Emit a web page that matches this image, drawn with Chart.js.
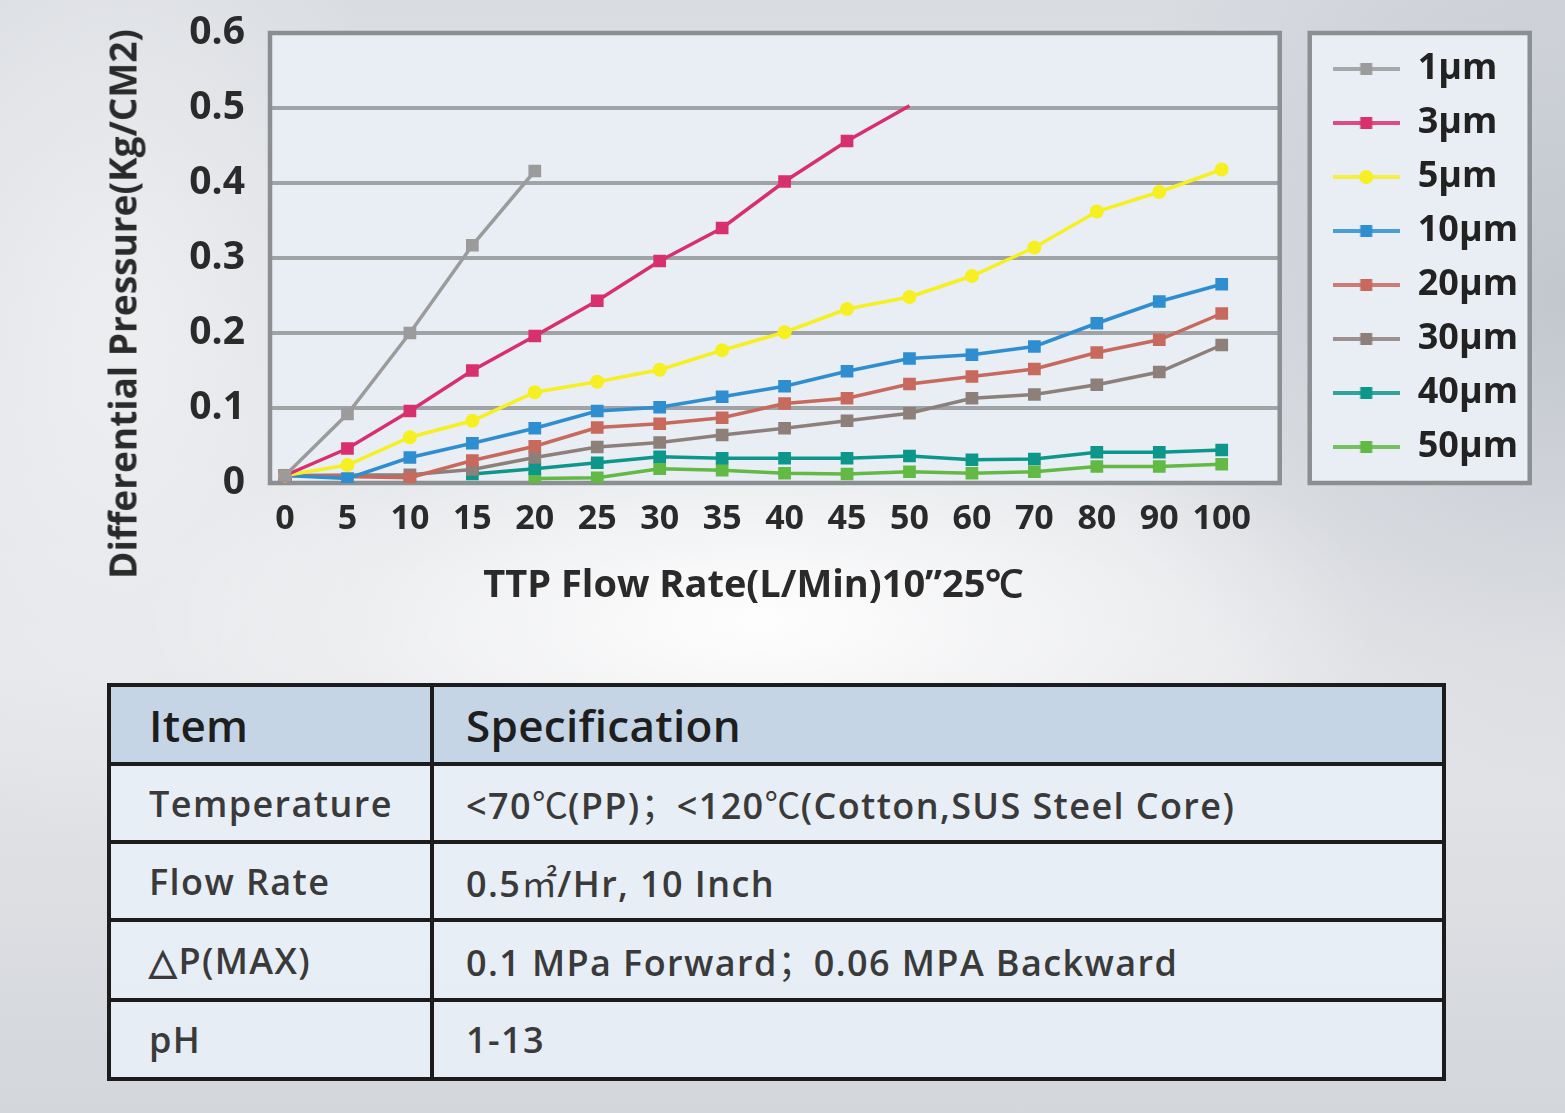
<!DOCTYPE html>
<html><head><meta charset="utf-8">
<script src="https://cdn.jsdelivr.net/npm/chart.js@4.4.1/dist/chart.umd.min.js"></script>
<style>
html,body{margin:0;padding:0;}
body{width:1565px;height:1113px;overflow:hidden;position:relative;
 background:
  radial-gradient(ellipse 620px 230px at 760px 620px, rgba(255,255,255,0.95), rgba(255,255,255,0) 100%),
  radial-gradient(ellipse 300px 520px at 120px 330px, rgba(240,241,243,0.8), rgba(240,241,243,0) 100%),
  radial-gradient(ellipse 500px 500px at 1565px 300px, rgba(170,176,186,0.55), rgba(170,176,186,0) 100%),
  linear-gradient(180deg, #d9dce1 0%, #e2e4e8 40%, #e6e7ea 60%, #d3d6db 100%);
 font-family:"Open Sans", sans-serif;}
#wrap{position:absolute;left:0;top:0;width:1565px;height:630px;}
#ytitle{position:absolute;left:122px;top:304px;transform:translate(-50%,-50%) rotate(-90deg);white-space:nowrap;
 font-weight:700;font-size:37px;color:#2a2a2a;line-height:1;}
table{position:absolute;left:107px;top:683px;width:1339px;height:394px;border-collapse:collapse;table-layout:fixed;}
td{border:4px solid #1c1c1c;background:rgba(232,238,245,0.95);color:#3a3a3a;font-weight:600;font-size:36px;letter-spacing:1.4px;vertical-align:middle;padding:0 0 0 32px;white-space:nowrap;}
td.c1{padding-left:38px;}
tr.h td{background:#c5d5e6;color:#1e1e1e;font-size:44px;letter-spacing:0.3px;}
.cjk{font-family:"Noto Sans CJK SC", sans-serif;font-weight:400;letter-spacing:0;}
</style></head>
<body>
<div id="wrap"><canvas id="c" width="1565" height="630"></canvas></div>
<div id="ytitle">Differential Pressure(Kg/CM2)</div>
<table>
<colgroup><col style="width:323px"><col></colgroup>
<tr class="h" style="height:79px"><td class="c1">Item</td><td>Specification</td></tr>
<tr style="height:78px"><td class="c1">Temperature</td><td>&lt;70<span class="cjk">℃</span>(PP)<span class="cjk">；</span>&lt;120<span class="cjk">℃</span>(Cotton,SUS Steel Core)</td></tr>
<tr style="height:78px"><td class="c1">Flow Rate</td><td>0.5<span class="cjk">㎡</span>/Hr, 10 Inch</td></tr>
<tr style="height:80px"><td class="c1">△P(MAX)</td><td>0.1 MPa Forward<span class="cjk">；</span>0.06 MPA Backward</td></tr>
<tr style="height:79px"><td class="c1">pH</td><td>1-13</td></tr>
</table>
<script>
const categories = ['0','5','10','15','20','25','30','35','40','45','50','60','70','80','90','100'];
const seriesNames = ['1μm','3μm','5μm','10μm','20μm','30μm','40μm','50μm'];
const um1  = [0.010, 0.092, 0.200, 0.317, 0.416];
const um3  = [0.010, 0.046, 0.096, 0.150, 0.196, 0.243, 0.296, 0.340, 0.402, 0.456, 0.503];
const um5  = [0.010, 0.024, 0.061, 0.083, 0.121, 0.135, 0.151, 0.177, 0.201, 0.232, 0.248, 0.276, 0.314, 0.362, 0.388, 0.418];
const um10 = [0.010, 0.006, 0.034, 0.053, 0.073, 0.096, 0.101, 0.115, 0.129, 0.149, 0.166, 0.171, 0.182, 0.213, 0.242, 0.265];
const um20 = [0.010, null, 0.007, 0.030, 0.049, 0.074, 0.079, 0.087, 0.106, 0.113, 0.132, 0.142, 0.152, 0.174, 0.191, 0.226];
const um30 = [0.010, null, 0.011, 0.018, 0.034, 0.048, 0.054, 0.064, 0.073, 0.083, 0.093, 0.113, 0.118, 0.131, 0.148, 0.184];
const um40 = [null, null, null, 0.012, 0.019, 0.027, 0.035, 0.033, 0.033, 0.033, 0.036, 0.031, 0.032, 0.041, 0.041, 0.044];
const um50 = [null, null, null, null, 0.006, 0.007, 0.019, 0.017, 0.013, 0.012, 0.015, 0.013, 0.015, 0.022, 0.022, 0.025];
const yTicks = [0, 0.1, 0.2, 0.3, 0.4, 0.5, 0.6];

const seriesData = [um1, um3, um5, um10, um20, um30, um40, um50];
const colors = ['#9b9b9b','#d8306d','#f6ef22','#2f8ecf','#c7695c','#8d807b','#0d978a','#62b944'];
const styles = ['rect','rect','circle','rect','rect','rect','rect','rect'];
const FONT = '"Open Sans", sans-serif';

function legendImg(color, style){
  const cv = document.createElement('canvas');
  cv.width = 67; cv.height = 16;
  const g = cv.getContext('2d');
  g.strokeStyle = color; g.lineWidth = 4; g.globalAlpha = 0.85;
  g.beginPath(); g.moveTo(0, 8); g.lineTo(67, 8); g.stroke();
  g.globalAlpha = 1; g.fillStyle = color;
  if (style === 'circle'){ g.beginPath(); g.arc(33.5, 8, 7, 0, Math.PI*2); g.fill(); }
  else g.fillRect(27.5, 2, 12, 12);
  return cv;
}

const datasets = seriesData.map((d, i) => ({
  label: seriesNames[i],
  data: d,
  borderColor: colors[i],
  backgroundColor: colors[i],
  borderWidth: 3.5,
  pointStyle: styles[i],
  pointRadius: d === um3 ? d.map((v, k) => k === d.length - 1 ? 0 : 9) : (styles[i] === 'circle' ? 7 : 9),
  pointBorderWidth: 0,
  tension: 0,
  spanGaps: true,
  yAxisID: 'y'
}));

const framePlugin = {
  id: 'frame',
  beforeDraw(chart){
    const ctx = chart.ctx, a = chart.chartArea, lg = chart.legend;
    ctx.save();
    ctx.fillStyle = '#e8eef4';
    ctx.strokeStyle = '#8c8f92'; ctx.lineWidth = 4.5;
    ctx.fillRect(lg.left - 5, a.top, 220, a.bottom - a.top);
    ctx.strokeRect(lg.left - 5, a.top, 220, a.bottom - a.top);
    ctx.restore();
  },
  beforeDatasetsDraw(chart){
    const ctx = chart.ctx, a = chart.chartArea, ys = chart.scales.y;
    const L = a.left - 15, R = a.right + 58;
    ctx.save();
    ctx.fillStyle = '#e8eef4';
    ctx.fillRect(L, a.top, R - L, a.bottom - a.top);
    ctx.strokeStyle = '#a0a3a6'; ctx.lineWidth = 4;
    ys.ticks.forEach(t => {
      const y = ys.getPixelForValue(t.value);
      ctx.beginPath(); ctx.moveTo(L, y); ctx.lineTo(R, y); ctx.stroke();
    });
    ctx.strokeStyle = '#8c8f92'; ctx.lineWidth = 4.5;
    ctx.strokeRect(L, a.top, R - L, a.bottom - a.top);
    ctx.restore();
  }
};

new Chart(document.getElementById('c'), {
  type: 'line',
  data: { labels: categories, datasets },
  plugins: [framePlugin],
  options: {
    responsive: false,
    animation: false,
    events: [],
    layout: { padding: { left: 100, top: 33, right: 37, bottom: 0 } },
    plugins: {
      tooltip: { enabled: false },
      legend: {
        position: 'right',
        align: 'start',
        labels: {
          usePointStyle: true,
          pointStyleWidth: 67,
          padding: 18,
          color: '#222',
          font: { family: FONT, size: 36, weight: 'bold' },
          generateLabels(chart){
            return chart.data.datasets.map((ds, i) => ({
              text: ds.label,
              pointStyle: legendImg(colors[i], styles[i]),
              fillStyle: colors[i], strokeStyle: colors[i], lineWidth: 0,
              fontColor: '#222', hidden: false, datasetIndex: i
            }));
          }
        }
      }
    },
    scales: {
      x: {
        type: 'category',
        offset: false,
        grid: { display: false, drawTicks: false },
        border: { display: false },
        ticks: { autoSkip: false, maxRotation: 0, padding: 16, color: '#2a2a2a',
                 font: { family: FONT, size: 34, weight: 'bold' } },
        title: { display: true, text: 'TTP Flow Rate(L/Min)10”25℃', color: '#2a2a2a',
                 padding: { top: 0, bottom: 21 },
                 font: { family: FONT, size: 38, weight: 'bold' } },
        afterFit(s){ s.height = 147; }
      },
      y: {
        position: 'left',
        min: 0, max: 0.6,
        afterBuildTicks(s){ s.ticks = yTicks.map(v => ({ value: v })); },
        grid: { display: false, drawTicks: false },
        border: { display: false },
        ticks: { padding: 40, color: '#2a2a2a',
                 callback: v => v === 0 ? '0' : v.toFixed(1),
                 font: { family: FONT, size: 39, weight: 'bold' } },
        title: { display: false },
        afterFit(s){ s.width = 185; s.paddingTop = 0; s.paddingBottom = 0; }
      },
      y2: {
        position: 'right',
        display: true,
        min: 0, max: 0.6,
        grid: { display: false, drawTicks: false },
        border: { display: false },
        ticks: { display: false },
        afterFit(s){ s.width = 93; s.paddingTop = 0; s.paddingBottom = 0; }
      }
    }
  }
});
</script>
</body></html>
